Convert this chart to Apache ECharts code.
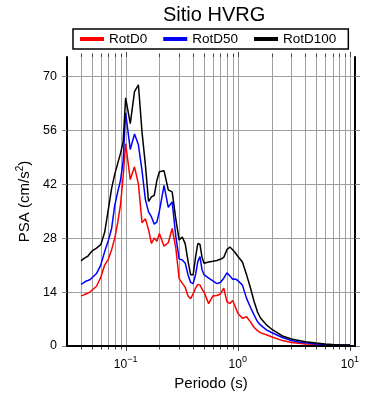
<!DOCTYPE html>
<html>
<head>
<meta charset="utf-8">
<script src="https://cdn.jsdelivr.net/npm/echarts@6/dist/echarts.min.js"></script>
<style>html,body{margin:0;padding:0;background:#fff}#c{width:390px;height:400px}</style>
</head>
<body>
<div id="c"></div>
<script>
const title = 'Sitio HVRG';
const seriesNames = ['RotD0', 'RotD50', 'RotD100'];
const periods = [0.04,0.042,0.044,0.046,0.048,0.05,0.055,0.06,0.065,0.07,0.075,0.08,0.085,0.09,0.095,
  0.1,0.11,0.12,0.13,0.14,0.15,0.16,0.17,0.18,0.19,0.2,0.22,0.24,0.26,0.28,0.3,0.32,0.34,0.36,0.38,0.4,
  0.42,0.44,0.46,0.48,0.5,0.55,0.6,0.65,0.7,0.75,0.8,0.85,0.9,0.95,1.0,1.1,1.2,1.3,1.4,1.5,1.6,1.8,2.0,
  2.5,3.0,3.5,4,5,6,7,8,10];
const rotD0 = [13.0,13.2,13.5,13.7,14.0,14.3,15.5,17.8,21.0,22.5,25.0,28.0,32.0,36.6,44.0,
  52.5,43.2,46.5,42.0,32.0,33.0,30.2,26.6,28.0,27.2,29.2,25.9,26.8,30.5,25.5,17.5,16.3,15.2,13.0,12.3,13.5,
  15.0,16.0,15.8,14.8,14.0,11.0,13.0,13.1,13.5,15.0,11.5,11.0,11.8,10.2,8.5,7.2,7.6,6.2,4.8,4.0,3.4,2.9,2.4,
  1.4,0.9,0.7,0.55,0.45,0.35,0.28,0.22,0.2];
const rotD50 = [16.0,16.4,16.8,17.0,17.2,17.7,18.8,21.0,24.5,27.3,30.5,36.5,40.0,43.0,48.0,
  60.5,51.0,55.0,52.2,45.5,38.0,34.8,33.5,31.6,32.2,35.0,41.7,36.0,37.4,28.5,22.6,22.3,21.5,18.5,16.5,16.2,
  18.5,21.9,23.2,19.8,18.5,17.6,16.9,16.2,16.5,17.6,19.0,18.2,17.3,17.4,17.0,15.8,12.3,10.0,8.0,6.3,5.4,4.2,3.5,
  2.2,1.4,1.05,0.85,0.55,0.4,0.3,0.25,0.2];
const rotD100 = [22.1,22.6,23.0,23.3,24.0,24.6,25.4,26.3,29.5,35.3,40.9,44.6,47.4,50.0,53.0,
  64.4,57.7,66.0,67.8,55.5,47.0,37.5,38.7,39.1,43.0,45.2,45.5,40.5,40.0,33.0,27.5,28.3,26.5,22.0,18.5,18.5,
  23.0,26.6,26.4,23.0,21.5,21.8,22.0,22.2,22.5,23.0,25.0,25.7,25.0,24.2,23.3,21.8,18.4,15.0,11.5,8.8,7.2,5.5,4.4,
  2.6,1.8,1.45,1.1,0.75,0.55,0.42,0.35,0.25];
const xMin = 0.03, xMax = 11.1;
const yMin = 0, yMax = 75;
const yTicks = [0, 14, 28, 42, 56, 70];
const xGridPeriods = [0.04,0.05,0.06,0.07,0.08,0.09,0.1,0.2,0.3,0.4,0.5,0.6,0.7,0.8,0.9,1,2,3,4,5,6,7,8,9,10];
const colors = ['#ff0000', '#0000ff', '#000000'];
const values = [rotD0, rotD50, rotD100];

const FONT = "'Liberation Sans', Arial, Helvetica, sans-serif";
const chart = echarts.init(document.getElementById('c'), null, {renderer: 'canvas'});

function isPow10(v) {
  const l = Math.log10(v);
  return Math.abs(l - Math.round(l)) < 1e-6;
}

const lineSeries = seriesNames.map((n, i) => ({
  name: n,
  type: 'line',
  symbol: 'none',
  z: 3,
  lineStyle: {color: colors[i], width: 1.5},
  itemStyle: {color: colors[i]},
  data: periods.map((p, j) => [p, values[i][j]])
}));

const gridSeries = {
  type: 'custom',
  silent: true,
  clip: false,
  z: 1,
  data: xGridPeriods.map(t => [t, yMin]),
  encode: {x: 0, y: 1},
  renderItem: function (params, api) {
    const t = api.value(0);
    const b = api.coord([t, yMin]);
    const tp = api.coord([t, yMax]);
    const x = Math.round(b[0]) + 0.5;
    const len = isPow10(t) ? 5 : 3.5;
    return {
      type: 'group',
      children: [
        {type: 'line', shape: {x1: x, y1: b[1], x2: x, y2: tp[1]}, style: {stroke: '#a0a0a0', lineWidth: 1}},
        {type: 'line', shape: {x1: x, y1: b[1], x2: x, y2: b[1] + len}, style: {stroke: '#444', lineWidth: 1}},
        {type: 'line', shape: {x1: x, y1: tp[1], x2: x, y2: tp[1] - len}, style: {stroke: '#444', lineWidth: 1}}
      ]
    };
  }
};

const option = {
  animation: false,
  backgroundColor: '#fff',
  textStyle: {fontFamily: FONT},
  title: {
    text: title,
    left: 158, top: 0,
    textStyle: {fontSize: 20, fontWeight: 'normal', color: '#000', fontFamily: FONT}
  },
  legend: {
    data: seriesNames,
    left: 73, top: 29,
    icon: 'rect',
    itemWidth: 24, itemHeight: 4, itemGap: 16,
    padding: [3, 12, 3, 7],
    borderColor: '#000', borderWidth: 1.5, borderRadius: 0,
    textStyle: {fontSize: 13.5, color: '#000', fontFamily: FONT}
  },
  grid: {left: 67, right: 35, top: 57, bottom: 54, containLabel: false},
  xAxis: [{
    type: 'log', logBase: 10, min: xMin, max: xMax, position: 'bottom', z: 5,
    axisLine: {show: true, lineStyle: {color: '#000', width: 2}},
    axisTick: {show: false},
    splitLine: {show: false},
    minorTick: {show: false},
    axisLabel: {
      margin: 9, color: '#000', fontFamily: FONT,
      showMinLabel: false, showMaxLabel: false,
      formatter: function (v) {
        if (!isPow10(v)) return '';
        const e = Math.round(Math.log10(v));
        return '{b|10}{s|' + (e < 0 ? '\u2212' + (-e) : e) + '}';
      },
      rich: {
        b: {fontSize: 12, color: '#000', fontFamily: FONT, lineHeight: 16, verticalAlign: 'bottom'},
        s: {fontSize: 9, color: '#000', fontFamily: FONT, lineHeight: 9, padding: [0, 0, 7, 0], verticalAlign: 'bottom'}
      }
    },
    name: 'Periodo (s)', nameLocation: 'middle', nameGap: 27,
    nameTextStyle: {fontSize: 15, color: '#000', fontFamily: FONT}
  }, {
    type: 'log', logBase: 10, min: xMin, max: xMax, position: 'top', z: 5,
    axisLine: {show: true, lineStyle: {color: '#000', width: 2}},
    axisTick: {show: false}, axisLabel: {show: false}, splitLine: {show: false}
  }],
  yAxis: [{
    type: 'value', min: yMin, max: yMax, interval: 14, position: 'left',
    axisLine: {show: true, lineStyle: {color: '#000', width: 2}},
    axisTick: {show: true, length: 5, lineStyle: {color: '#888'}, customValues: yTicks},
    splitLine: {show: true, lineStyle: {color: '#a0a0a0', width: 1}},
    axisLabel: {
      margin: 10, fontSize: 12.5, color: '#000', fontFamily: FONT, customValues: yTicks,
      formatter: function (v) { return yTicks.indexOf(v) >= 0 ? String(v) : ''; }
    },
    name: 'PSA (cm/s{s|2})', nameLocation: 'middle', nameGap: 27, nameRotate: 90,
    nameTextStyle: {
      fontSize: 15, color: '#000', fontFamily: FONT,
      rich: {s: {fontSize: 10, color: '#000', fontFamily: FONT, padding: [0, 0, 8, 0]}}
    }
  }, {
    type: 'value', min: yMin, max: yMax, interval: 14, position: 'right',
    axisLine: {show: true, lineStyle: {color: '#000', width: 2}},
    axisTick: {show: true, length: 5, lineStyle: {color: '#888'}, customValues: yTicks},
    axisLabel: {show: false}, splitLine: {show: false}
  }],
  series: [gridSeries].concat(lineSeries)
};
chart.setOption(option);
</script>
</body>
</html>
